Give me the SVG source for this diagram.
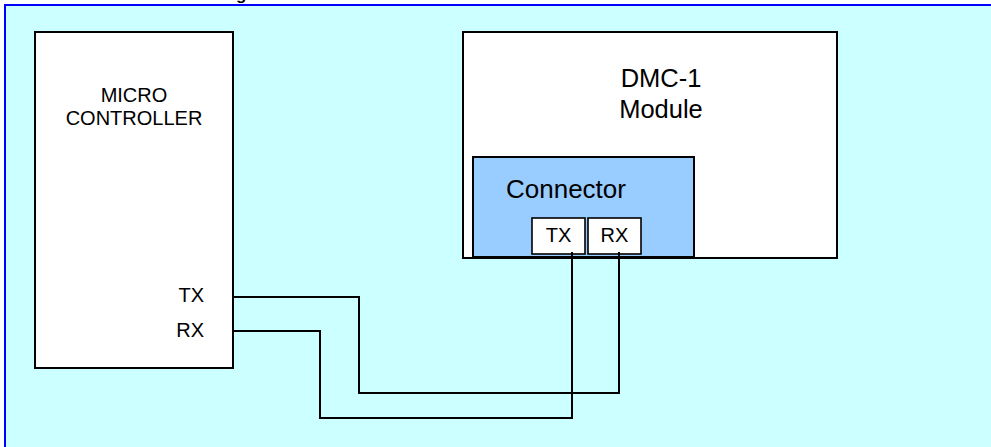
<svg xmlns="http://www.w3.org/2000/svg" width="991" height="447" viewBox="0 0 991 447">
<style>
.box{fill:#fff;stroke:#000;stroke-width:2}
.conn{fill:#99CCFF;stroke:#000;stroke-width:2}
.pin{fill:#fff;stroke:#000;stroke-width:1.6}
.wire{fill:none;stroke:#000;stroke-width:2}
.t{font-family:"Liberation Sans",Arial,sans-serif;fill:#000}
.title{font-family:"Liberation Sans",Arial,sans-serif;font-weight:bold;font-size:17px;fill:#000}
</style>
<rect x="5" y="5" width="990" height="446" fill="#CCFFFF" stroke="#0000FF" stroke-width="2"/>
<text class="title" x="33" y="0">DMC-1 Module connecting to Serial</text>
<text class="title" x="453" y="0">Interface</text>
<g id="micro">
<rect class="box" x="35" y="32" width="198" height="336"/>
<text class="t" x="134" y="102" font-size="20" text-anchor="middle">MICRO</text>
<text class="t" x="134" y="125" font-size="20" text-anchor="middle">CONTROLLER</text>
<text class="t" x="204" y="302" font-size="20" text-anchor="end">TX</text>
<text class="t" x="204" y="337" font-size="20" text-anchor="end">RX</text>
</g>
<g id="dmc">
<rect class="box" x="463" y="32" width="374" height="226"/>
<text class="t" x="661" y="87" font-size="25.5" text-anchor="middle">DMC-1</text>
<text class="t" x="661" y="118" font-size="25.5" text-anchor="middle">Module</text>
</g>
<g id="connector">
<rect class="conn" x="473" y="157" width="221" height="100"/>
<text class="t" x="506" y="198" font-size="26">Connector</text>
</g>
<g id="pin-tx">
<rect class="pin" x="532" y="218" width="53" height="36"/>
<text class="t" x="558.5" y="242" font-size="20" text-anchor="middle">TX</text>
</g>
<g id="pin-rx">
<rect class="pin" x="588" y="218" width="53" height="36"/>
<text class="t" x="614.5" y="242" font-size="20" text-anchor="middle">RX</text>
</g>
<g id="connectors">
<polyline class="wire" points="233,297 359,297 359,393 619,393 619,252"/>
<polyline class="wire" points="233,331 320,331 320,418 572,418 572,252"/>
</g>
</svg>
